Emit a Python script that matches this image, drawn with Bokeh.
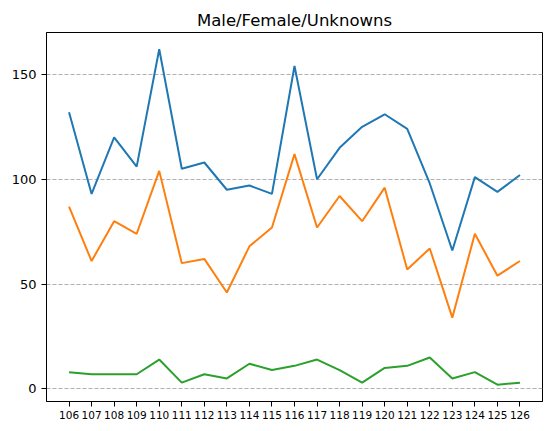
from bokeh.plotting import figure
from bokeh.models import Range1d, FixedTicker
from bokeh.embed import file_html
from bokeh.resources import INLINE

categories = [106, 107, 108, 109, 110, 111, 112, 113, 114, 115, 116,
              117, 118, 119, 120, 121, 122, 123, 124, 125, 126]
male = [132, 93, 120, 106, 162, 105, 108, 95, 97, 93, 154,
        100, 115, 125, 131, 124, 98, 66, 101, 94, 102]
female = [87, 61, 80, 74, 104, 60, 62, 46, 68, 77, 112,
          77, 92, 80, 96, 57, 67, 34, 74, 54, 61]
unknown = [8, 7, 7, 7, 14, 3, 7, 5, 12, 9, 11,
           14, 9, 3, 10, 11, 15, 5, 8, 2, 3]
y_ticks = [0, 50, 100, 150]

FONT = "DejaVu Sans"

p = figure(width=544, height=423, output_backend="svg", toolbar_location=None,
           x_range=Range1d(105, 127), y_range=Range1d(-6, 170),
           title="Male/Female/Unknowns",
           min_border_left=46, min_border_right=2, min_border_top=32, min_border_bottom=22)

p.title.align = "center"
p.title.text_font = FONT
p.title.text_font_size = "16.5px"
p.title.text_font_style = "normal"
p.title.text_color = "black"
p.title.offset = 0
p.title.standoff = 6

p.outline_line_color = "black"
p.outline_line_width = 1
p.outline_line_alpha = 1
p.background_fill_color = "white"
p.border_fill_color = "white"

p.xgrid.visible = False
p.ygrid.grid_line_color = "#b0b0b0"
p.ygrid.grid_line_dash = "4 2"
p.ygrid.grid_line_width = 1
p.ygrid.ticker = FixedTicker(ticks=y_ticks)

p.xaxis.ticker = FixedTicker(ticks=categories)
p.yaxis.ticker = FixedTicker(ticks=y_ticks)
for ax, size, standoff in ((p.xaxis, "10.5px", 4), (p.yaxis, "13px", 5)):
    ax.major_label_text_font = FONT
    ax.major_label_text_font_size = size
    ax.major_label_text_color = "black"
    ax.major_label_standoff = standoff
    ax.major_tick_out = 5
    ax.major_tick_in = 0
    ax.minor_tick_out = 0
    ax.minor_tick_in = 0
    ax.axis_line_color = "black"
    ax.major_tick_line_color = "black"

p.line(categories, male, line_color="#1f77b4", line_width=2)
p.line(categories, female, line_color="#ff7f0e", line_width=2)
p.line(categories, unknown, line_color="#2ca02c", line_width=2)

open("out.html", "w").write(file_html(p, INLINE))
